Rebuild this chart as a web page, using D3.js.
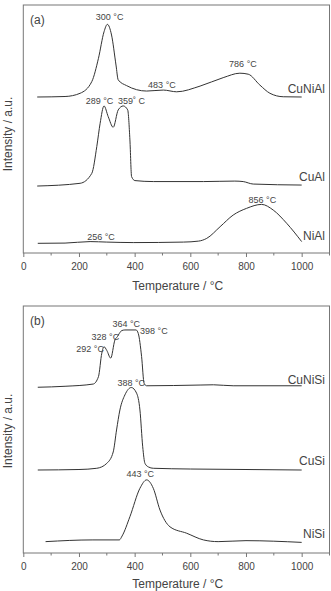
<!DOCTYPE html>
<html>
<head>
<meta charset="utf-8">
<script src="https://cdn.jsdelivr.net/npm/d3@7"></script>
<style>
  body { margin: 0; background: #fff; }
  svg text { font-family: "Liberation Sans", Arial, sans-serif; fill: #444; }
</style>
</head>
<body>
<div id="chart"></div>
<script>
// temperatures (°C) and intensities (a.u., already stacked)
var cuNiAlT = [50, 150, 204, 246, 270, 290, 302, 317, 333, 341, 371, 443, 503, 551, 635, 718, 778, 808, 850, 886, 934, 1000];
var cuNiAlI = [62.9, 63.1, 64.4, 69.1, 78.5, 89.2, 92.2, 87.9, 75.8, 69.8, 67.5, 65.3, 65.7, 65.0, 67.3, 70.7, 72.5, 72.1, 67.7, 64.4, 63.0, 62.9];

var cuAlT = [50, 204, 246, 264, 276, 290, 305, 323, 341, 359, 375, 383, 389, 401, 467, 647, 760, 790, 826, 1000];
var cuAlI = [27.0, 28.1, 32.1, 42.9, 52.3, 59.3, 55.0, 50.7, 57.7, 59.3, 57.7, 45.6, 30.8, 29.2, 28.8, 28.8, 29.0, 28.8, 27.8, 27.4];

var niAlT = [52, 150, 240, 300, 395, 575, 630, 659, 707, 754, 802, 856, 898, 946, 1000];
var niAlI = [3.9, 4.0, 4.6, 4.4, 4.2, 4.4, 4.8, 5.9, 10.6, 15.3, 18.0, 19.6, 17.3, 12.0, 4.6];

var cuNiSiT = [52, 150, 251, 270, 282, 290, 300, 314, 329, 338, 345, 353, 365, 405, 413, 425, 434, 443, 635, 683, 754, 1000];
var cuNiSiI = [67.1, 67.5, 68.4, 71.4, 80.9, 83.5, 82.0, 78.9, 86.2, 87.6, 88.9, 90.0, 90.3, 90.3, 88.9, 79.5, 68.7, 67.7, 68.0, 68.1, 67.7, 67.7];

var cuSiT = [52, 200, 264, 300, 323, 335, 347, 365, 388, 407, 419, 429, 437, 450, 467, 600, 800, 1000];
var cuSiI = [33.6, 33.8, 34.3, 36.3, 40.9, 49.8, 57.9, 64.0, 67.0, 64.7, 57.9, 43.0, 36.3, 34.8, 34.3, 34.0, 33.8, 33.6];

var niSiT = [80, 250, 345, 355, 383, 419, 443, 467, 491, 527, 587, 647, 700, 800, 1000];
var niSiI = [4.6, 5.3, 5.3, 6.9, 14.7, 26.2, 29.6, 26.2, 17.4, 10.6, 8.0, 5.3, 4.6, 5.0, 4.3];

var xTicks = [0, 200, 400, 600, 800, 1000];
var xMinor = [100, 300, 500, 700, 900, 1100];

// annotations: [text, temperature, intensity]
var notesA = [
  ["300 °C", 310, 93.8], ["483 °C", 498, 66.5], ["786 °C", 789, 75],
  ["289 °C", 274, 60.1], ["359˚ C", 389, 60.1],
  ["256 °C", 279, 5.2], ["856 °C", 859, 20.2]
];
var notesB = [
  ["364 °C", 370, 91.5], ["398 °C", 469, 88.7], ["328 °C", 295, 86.2],
  ["292 °C", 240, 81.4], ["388 °C", 388, 67.8], ["443 °C", 420, 30.8]
];
var namesA = [["CuNiAl", 64.5], ["CuAl", 29.2], ["NiAl", 5.2]];
var namesB = [["CuNiSi", 68.4], ["CuSi", 35.6], ["NiSi", 6.1]];

var W = 331, H = 591;
var svg = d3.select("#chart").append("svg").attr("width", W).attr("height", H);

function panel(top, bottom, yMid, titleGap, series, notes, names, tag) {
  var x = d3.scaleLinear().domain([0, 1100]).range([23.3, 329.5]);
  var y = d3.scaleLinear().domain([0, 100]).range([bottom, top]);
  var g = svg.append("g");

  g.append("rect")
    .attr("x", x(0)).attr("y", top)
    .attr("width", x(1100) - x(0)).attr("height", bottom - top)
    .attr("fill", "none").attr("stroke", "#777").attr("stroke-width", 1);

  var ax = g.append("g").attr("transform", "translate(0," + bottom + ")")
    .call(d3.axisBottom(x).tickValues(xTicks).tickFormat(d3.format("d")).tickSize(4).tickSizeOuter(0));
  ax.select(".domain").remove();
  ax.selectAll("line").attr("stroke", "#777");
  ax.selectAll("text").attr("font-size", 10).attr("fill", "#444").attr("dy", "1.0em");

  g.append("g").selectAll("line").data(xMinor).join("line")
    .attr("x1", x).attr("x2", x)
    .attr("y1", bottom).attr("y2", bottom + 2.5)
    .attr("stroke", "#777");

  var line = d3.line()
    .x(function(d) { return x(d[0]); })
    .y(function(d) { return y(d[1]); })
    .curve(d3.curveMonotoneX);

  series.forEach(function(s) {
    g.append("path")
      .datum(d3.zip(s[0], s[1]))
      .attr("d", line)
      .attr("fill", "none").attr("stroke", "#333").attr("stroke-width", 1);
  });

  g.selectAll(".note").data(notes).join("text")
    .attr("class", "note")
    .attr("x", function(d) { return x(d[1]); })
    .attr("y", function(d) { return y(d[2]); })
    .attr("text-anchor", "middle")
    .attr("font-size", 9)
    .text(function(d) { return d[0]; });

  g.selectAll(".name").data(names).join("text")
    .attr("class", "name")
    .attr("x", 325)
    .attr("y", function(d) { return y(d[1]); })
    .attr("text-anchor", "end")
    .attr("font-size", 12)
    .text(function(d) { return d[0]; });

  g.append("text").attr("x", 30).attr("y", top + 19)
    .attr("font-size", 12).text(tag);

  g.append("text")
    .attr("x", x(555)).attr("y", bottom + titleGap)
    .attr("text-anchor", "middle").attr("font-size", 12)
    .text("Temperature / °C");

  g.append("text")
    .attr("transform", "translate(11.5," + yMid + ") rotate(-90)")
    .attr("text-anchor", "middle").attr("font-size", 12)
    .text("Intensity / a.u.");
}

panel(5, 253, 134, 37, [[cuNiAlT, cuNiAlI], [cuAlT, cuAlI], [niAlT, niAlI]], notesA, namesA, "(a)");
panel(306, 553, 431, 34.5, [[cuNiSiT, cuNiSiI], [cuSiT, cuSiI], [niSiT, niSiI]], notesB, namesB, "(b)");
</script>
</body>
</html>
